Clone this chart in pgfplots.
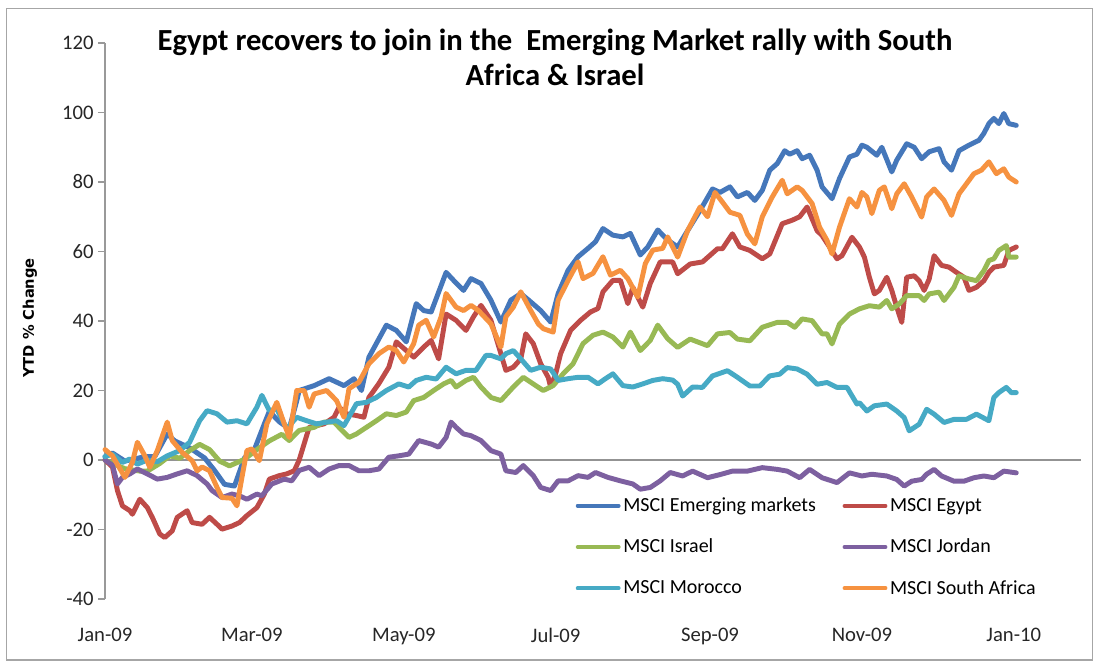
\documentclass[border=0pt]{standalone}
\usepackage{fontspec}
\setmainfont{Carlito}
\newfontfamily\labfont{DejaVu Sans}
\usepackage{pgfplots}
\usepackage{pgfplotstable}
\pgfplotsset{compat=1.18}

\definecolor{cEM}{HTML}{4577BA}
\definecolor{cEG}{HTML}{BE4B48}
\definecolor{cIS}{HTML}{98B954}
\definecolor{cJO}{HTML}{7D60A0}
\definecolor{cMO}{HTML}{46AAC5}
\definecolor{cSA}{HTML}{F69240}

% x = days since 1 Jan 2009, y = YTD % change
\pgfplotstableread{
d v
0 1
3 2
8 -0.3
12 0.3
16 1
20 1
25 7.5
28 5.5
34 3.5
40 0.6
44 -3
48 -7
52 -7.5
56 0.6
60 3
64 10.4
66 14
70 11
74 9
77 17
78 20
84 21.4
90 23.4
96 21.4
100 23.4
103 20
106 29.6
113 38.8
117 37.3
121 34
125 45
128 43
131 42.6
133 46.4
137 54
140 51.7
144 48.8
147 52.2
151 50.8
155 46
159 39.7
163 46
167 47.9
171 45.5
175 43
179 39.7
182 47.9
186 54.6
190 58.5
194 60.9
197 62.8
200 66.6
204 64.7
208 64.2
211 65.2
215 59
218 61.3
222 66.2
226 63.3
230 61.3
234 66
239 71.8
244 78
247 77
251 78.6
254 75.7
258 77
261 74.7
264 77.6
267 83.4
270 85.3
273 89
275 88
278 89
280 86.7
283 87.7
286 83.4
288 78.6
292 75.2
295 81
299 87.2
302 88
304 90.6
306 90
310 87.7
312 90
316 82.9
318 86.3
322 91
325 90
328 86.7
331 88.7
335 89.6
337 85.8
340 83.4
343 89
347 90.6
351 92
353 94
355 96.8
357 98.3
359 96.8
361 99.7
363 96.8
366 96.3
}\tEM

\pgfplotstableread{
d v
0 0
3 -2
5 -8.8
7 -13.2
10 -14.6
11 -15.6
14 -11.3
17 -13.7
19 -16.5
22 -21.3
24 -22.3
27 -20.4
29 -16.5
33 -14.6
35 -18
39 -18.5
42 -16.5
45 -18.5
47 -19.9
51 -19
54 -18
57 -16
61 -13.7
64 -9.8
66 -5.5
70 -4.5
73 -4
76 -3.1
78 0
82 9.4
88 10.4
92 12.3
94 15.2
97 13.3
101 12.8
104 12.3
106 18
110 22
114 26.7
117 34
121 31.5
124 29.6
128 32.5
131 34.4
134 29.1
137 42
141 40.2
145 37.3
148 41.2
151 44.5
155 40.2
159 30.6
161 25.8
164 26.7
167 29.1
169 36.3
172 33.5
175 27.7
178 23.8
179 21
181 24.8
183 30.6
187 37.3
191 40.2
195 42.6
198 43.6
200 48.4
204 51.7
207 51.7
210 45
212 49.7
216 44
219 50.8
223 57
226 57
228 57
230 53.6
235 56.4
240 57
246 60.8
248 60.8
252 65.1
255 61.3
259 60.3
264 57.9
267 59.3
272 68
276 69
279 70
282 72.8
286 66
288 64.6
291 61.3
294 57.9
296 58.8
300 64.1
303 61.3
305 58.4
307 52.6
309 47.8
311 48.8
314 52.6
316 48.8
318 44
320 39.6
322 52.6
325 53
327 51.6
329 48.8
331 52
333 58.8
336 56
339 55.5
342 54
345 52.6
347 48.8
350 49.7
353 51.6
355 54
357 55.5
361 56
363 60.3
366 61.3
}\tEG

\pgfplotstableread{
d v
0 0
3 -1
8 -2.5
14 -3.2
17 -3.2
22 -1
26 1.2
30 0.5
34 2.7
38 4.5
42 3
46 -0.3
50 -1.7
56 0.2
61 3
66 5.5
71 7.4
74 5.6
78 8.5
84 9.4
88 10.9
92 10.9
94 9.4
98 6.5
101 7.5
105 9.4
109 11.3
113 13.3
117 12.8
121 13.8
124 17.1
128 18
132 20
136 21.9
139 22.9
141 21
145 22.9
148 23.8
151 21
155 18
159 17.1
164 21
168 23.8
172 21.9
176 20
180 21.4
184 24.8
188 27.7
192 33.5
196 35.9
200 36.8
204 35.4
208 32.5
211 36.8
215 31.5
219 34.4
222 38.8
226 34.9
230 32.4
235 34.8
242 32.9
246 36.3
251 36.7
254 34.8
259 34.3
264 38.2
270 39.6
274 39.6
277 38.2
280 40.6
284 40.1
288 36.3
290 36.3
292 33.4
295 39.1
299 42
303 43.5
307 44.4
311 44
314 45.9
316 43.5
319 44.9
322 47.3
327 47.3
329 45.9
331 47.8
335 48.3
337 45.9
341 49.7
343 53
347 52.1
350 51.6
353 54.5
355 57.4
357 57.9
359 60.3
362 61.7
363 58.4
366 58.4
}\tIS

\pgfplotstableread{
d v
0 0
3 -1.5
5 -6.9
7 -5
10 -4
13 -2.6
17 -4
21 -5.5
25 -5
29 -4
33 -3.1
37 -4.5
41 -6.9
43 -8.8
47 -10.8
51 -9.8
54 -10.3
57 -11.3
61 -9.8
63 -10.3
67 -6.9
72 -5.5
75 -6
78 -3
82 -2.1
86 -4.5
90 -2.6
94 -1.6
98 -1.6
102 -3.1
106 -3.1
110 -2.6
114 0.8
118 1.2
122 1.7
126 5.6
131 4.6
134 3.7
137 6.5
139 10.9
141 9.4
144 7.5
147 7
151 5.6
155 2.7
159 1.7
161 -3.1
165 -3.6
168 -1.6
172 -4.5
175 -7.9
179 -8.8
182 -6
186 -6
190 -4.5
194 -5
197 -3.6
202 -5
207 -6
212 -6.9
215 -8.4
219 -7.9
223 -6
227 -3.6
232 -4.6
236 -3.2
242 -5.1
247 -4.2
252 -3.2
258 -3.2
264 -2.2
270 -2.7
274 -3.2
279 -5.1
283 -2.7
288 -5.1
294 -6.5
299 -3.7
304 -4.6
308 -4.1
314 -4.6
318 -5.6
321 -7.5
324 -6.1
328 -5.6
330 -4.1
333 -2.7
336 -4.6
341 -6.1
345 -6.1
349 -5.1
353 -4.6
357 -5.1
361 -3.2
366 -3.7
}\tJO

\pgfplotstableread{
d v
0 1
3 1.7
7 -0.7
10 0.3
13 -1.2
17 0
21 -0.5
25 1.2
30 2.7
34 5.1
38 11.3
41 14.2
45 13.3
49 10.9
53 11.3
57 10.4
61 15.2
63 18.6
66 14.2
69 14.7
73 9
77 12.3
81 11.3
85 10.4
89 10.9
93 11.3
96 9.9
101 16.2
105 16.6
109 18
113 20
118 21.9
122 21
125 22.9
129 23.8
133 23.3
137 26.7
141 24.8
145 25.8
149 25.8
153 30.1
155 30.1
159 29.1
161 30.6
164 31.5
167 29.1
171 25.8
175 26.7
179 26.2
182 22.9
186 23.4
190 23.8
194 23.8
198 21.9
201 23.4
204 24.8
208 21.4
212 21
216 21.9
220 22.9
224 23.4
228 23
230 21.8
232 18.4
236 21
240 20.9
244 24.2
250 25.7
254 23.8
259 21.3
263 21.3
267 24.2
271 24.7
274 26.6
278 26.2
282 24.7
286 21.8
290 22.3
294 20.9
298 20.9
302 16.1
303 16.5
306 14.1
309 15.6
314 16.1
318 14.1
321 12.2
323 8.4
327 10.3
330 14.6
333 13.2
337 10.8
341 11.7
346 11.7
350 13.2
355 11.3
357 18
359 19.4
362 20.9
364 19.4
366 19.4
}\tMO

\pgfplotstableread{
d v
0 3
3 1.2
8 -5
11 -0.7
13 5.1
16 1.2
18 -2.1
21 2.7
25 10.9
27 5.6
31 2.2
35 -0.2
37 -3.1
39 -2
42 -3.1
45 -7.9
47 -10.8
51 -11
53 -13.2
55 -5
57 2.7
59 3.2
62 -0.2
65 10.4
69 16.6
72 10.4
74 6.5
77 20
80 20
82 15.2
84 19
89 20
93 17.1
96 12.3
98 20.5
102 22.4
106 27.7
110 30.6
114 32.5
117 31.5
120 28.2
124 33.5
126 38.8
129 40.2
132 35.4
135 41.2
137 47.9
141 44
144 43
147 44.5
150 43
155 39.2
159 32.5
161 41.2
164 44
167 48.4
171 43
174 39.2
176 37.8
180 36.8
182 46
186 51.7
190 57
192 52.2
196 53.7
200 58.5
203 53.2
207 54.6
210 52.2
214 46.9
217 56.5
220 60.4
224 60.9
226 64.2
230 58.4
234 66
239 72.8
242 70
245 77
248 74.2
251 71.3
255 70.4
258 65
261 62.2
264 70
268 75.7
272 80.5
274 76.6
278 78.6
280 77.6
284 73.8
287 67
290 63.2
292 59.3
295 67
299 75.2
302 72.8
304 77
306 75.7
308 70.9
311 77.6
313 78.6
316 72.3
318 76.6
321 79.5
324 75.7
328 69.9
330 75.7
333 78
337 74.7
340 70.4
343 76.6
346 79.5
349 82.4
352 83.4
355 85.8
358 82.4
361 83.8
363 81.4
366 80
}\tSA

\begin{document}
\begin{tikzpicture}
% canvas: 1097 x 670 px, 1 px = 0.75 pt, y downward negative
\path[use as bounding box] (0,0) rectangle (822.75pt,-502.5pt);
\draw[gray!70, line width=1pt] (5pt,-6.5pt) rectangle (819.5pt,-495pt);

\begin{axis}[
  at={(78.75pt,-449.25pt)}, anchor=south west,
  scale only axis,
  width=732pt, height=417pt,
  xmin=0, xmax=392,
  ymin=-40, ymax=120,
  axis y line=left,
  axis x line=bottom,
  x axis line style={draw=none},
  y axis line style={gray!80, line width=0.9pt, -},
  ytick={-40,-20,0,20,40,60,80,100,120},
  xtick={0,59,120,181,243,304,365},
  xticklabels={Jan-09,Mar-09,May-09,Jul-09,Sep-09,Nov-09,Jan-10},
  xtick style={draw=none},
  ytick style={gray!80, line width=0.9pt},
  tick align=outside,
  major tick length=5pt,
  extra y ticks={0},
  extra y tick labels={},
  extra y tick style={grid=major, major grid style={gray!85, line width=0.9pt}, tick style={draw=none}},
  /pgf/number format/assume math mode=true,
  tick label style={font=\fontsize{15.5}{18}\selectfont, text=black!85},
  xticklabel style={yshift=-13pt},
  clip=false,
  legend columns=2,
  legend style={at={(0.478,0.192)}, anchor=north west, draw=none, fill=none,
    font=\fontsize{15}{18}\selectfont, row sep=15pt,
    /tikz/every even column/.append style={column sep=18pt}},
  legend cell align=left,
  legend image code/.code={\draw[#1, line width=2.6pt] (0pt,0pt) -- (31pt,0pt);},
  every axis plot/.append style={line width=3.7pt, line join=round, line cap=round},
]
\addplot[cEM] table[x=d,y=v]{\tEM};
\addlegendentry{MSCI Emerging markets}
\addplot[cEG] table[x=d,y=v]{\tEG};
\addlegendentry{MSCI Egypt}
\addplot[cIS] table[x=d,y=v]{\tIS};
\addlegendentry{MSCI Israel}
\addplot[cJO] table[x=d,y=v]{\tJO};
\addlegendentry{MSCI Jordan}
\addplot[cMO] table[x=d,y=v]{\tMO};
\addlegendentry{MSCI Morocco}
\addplot[cSA] table[x=d,y=v]{\tSA};
\addlegendentry{MSCI South Africa}
\end{axis}

\node[align=center, font=\fontsize{23}{26}\selectfont\bfseries] at (416.25pt,-43pt)
  {Egypt recovers to join in the\ \ Emerging Market rally with South\\Africa \& Israel};
\node[rotate=90, font=\labfont\fontsize{11}{13}\selectfont\bfseries] at (22.5pt,-238.5pt) {YTD \% Change};
\end{tikzpicture}
\end{document}
